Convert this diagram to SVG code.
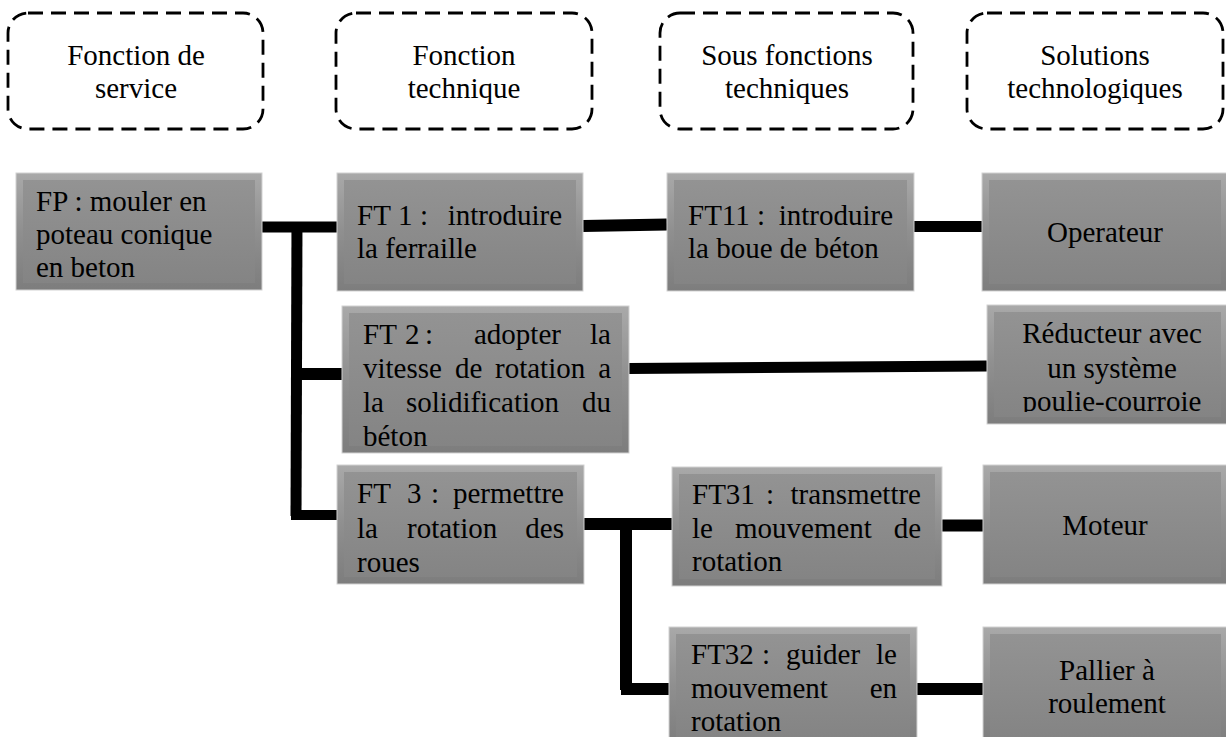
<svg xmlns="http://www.w3.org/2000/svg" width="1226" height="737" viewBox="0 0 1226 737">
<style>
.t{font-family:"Liberation Serif","Times New Roman",serif;font-size:29px;fill:#000}
.c{text-anchor:middle}
.e{text-anchor:end}
.hd{fill:none;stroke:#000;stroke-width:2.8;stroke-dasharray:15 8}
.o{fill:url(#gOuter);stroke:#d2d2d2;stroke-width:1}
.i{fill:url(#gInner)}
</style>
<defs>
<linearGradient id="gOuter" x1="0" y1="0" x2="0" y2="1">
<stop offset="0" stop-color="#a9a9a9"/>
<stop offset="0.5" stop-color="#8f8f8f"/>
<stop offset="1" stop-color="#7d7d7d"/>
</linearGradient>
<linearGradient id="gInner" x1="0" y1="0" x2="0" y2="1">
<stop offset="0" stop-color="#939393"/>
<stop offset="1" stop-color="#848484"/>
</linearGradient>
<clipPath id="clipFT2"><rect x="342" y="306" width="287" height="140"/></clipPath>
<clipPath id="clipRed"><rect x="987" y="305" width="241" height="107"/></clipPath>
</defs>
<rect width="1226" height="737" fill="#fff"/>

<g id="h1"><rect class="hd" x="8" y="13" width="255" height="116" rx="20"/>
<text class="t c" x="136" y="65">Fonction de</text><text class="t c" x="136" y="98">service</text></g>
<g id="h2"><rect class="hd" x="336" y="13" width="256" height="116" rx="20"/>
<text class="t c" x="464" y="65">Fonction</text><text class="t c" x="464" y="98">technique</text></g>
<g id="h3"><rect class="hd" x="660" y="13" width="253" height="116" rx="20"/>
<text class="t c" x="787" y="65">Sous fonctions</text><text class="t c" x="787" y="98">techniques</text></g>
<g id="h4"><rect class="hd" x="967" y="13" width="256" height="116" rx="20"/>
<text class="t c" x="1095" y="65">Solutions</text><text class="t c" x="1095" y="98">technologiques</text></g>

<g id="connectors" stroke="#000" fill="none">
<line x1="262" y1="227" x2="337" y2="227" stroke-width="11"/>
<line x1="297" y1="222" x2="296" y2="516" stroke-width="11"/>
<line x1="301" y1="374" x2="342" y2="374" stroke-width="12"/>
<line x1="291" y1="515" x2="337" y2="515" stroke-width="10"/>
<line x1="583" y1="226" x2="667" y2="224.5" stroke-width="12"/>
<line x1="914" y1="226.5" x2="982" y2="226.5" stroke-width="11"/>
<line x1="629" y1="368.5" x2="987" y2="366" stroke-width="11"/>
<line x1="584" y1="524" x2="672" y2="524" stroke-width="12"/>
<line x1="626" y1="524" x2="626" y2="690" stroke-width="12"/>
<line x1="621" y1="689" x2="669" y2="689" stroke-width="12"/>
<line x1="942" y1="525.5" x2="983" y2="525.5" stroke-width="12"/>
<line x1="917" y1="689" x2="983" y2="689" stroke-width="12"/>
</g>

<g id="fp"><rect class="o" x="16" y="173" width="246" height="117"/><rect class="i" x="23" y="180" width="232" height="103"/>
<text class="t" x="36" y="211">FP : mouler en</text>
<text class="t" x="36" y="244">poteau conique</text>
<text class="t" x="36" y="277">en beton</text></g>

<g id="ft1"><rect class="o" x="337" y="173" width="246" height="118"/><rect class="i" x="344" y="180" width="232" height="104"/>
<text class="t" x="357" y="225">FT</text><text class="t" x="398" y="225">1</text><text class="t" x="420" y="225">:</text><text class="t e" x="562" y="225">introduire</text>
<text class="t" x="357" y="258">la ferraille</text></g>

<g id="ft11"><rect class="o" x="667" y="173" width="247" height="118"/><rect class="i" x="674" y="180" width="233" height="104"/>
<text class="t" x="688" y="225">FT11 :</text><text class="t e" x="893" y="225">introduire</text>
<text class="t" x="688" y="258">la boue de béton</text></g>

<g id="operateur"><rect class="o" x="982" y="173" width="246" height="118"/><rect class="i" x="989" y="180" width="232" height="104"/>
<text class="t c" x="1105" y="242">Operateur</text></g>

<g id="ft2"><rect class="o" x="342" y="306" width="287" height="147"/><rect class="i" x="349" y="313" width="273" height="133"/>
<g clip-path="url(#clipFT2)">
<text class="t" x="363" y="344">FT</text><text class="t" x="405" y="344">2</text><text class="t" x="425" y="344">:</text><text class="t" x="474" y="344">adopter</text><text class="t e" x="611" y="344">la</text>
<text class="t" x="363" y="378">vitesse</text><text class="t" x="455" y="378">de</text><text class="t" x="495" y="378">rotation</text><text class="t e" x="611" y="378">a</text>
<text class="t" x="363" y="412">la</text><text class="t" x="406" y="412">solidification</text><text class="t e" x="611" y="412">du</text>
<text class="t" x="363" y="446">béton</text>
</g></g>

<g id="reducteur"><rect class="o" x="987" y="305" width="241" height="119"/><rect class="i" x="994" y="312" width="227" height="105"/>
<g clip-path="url(#clipRed)">
<text class="t c" x="1112" y="343">Réducteur avec</text>
<text class="t c" x="1112" y="378">un système</text>
<text class="t c" x="1112" y="411">poulie-courroie</text>
</g></g>

<g id="ft3"><rect class="o" x="337" y="465" width="247" height="119"/><rect class="i" x="344" y="472" width="233" height="105"/>
<text class="t" x="357" y="503">FT</text><text class="t" x="407" y="503">3</text><text class="t" x="431" y="503">:</text><text class="t e" x="564" y="503">permettre</text>
<text class="t" x="357" y="538">la</text><text class="t" x="407" y="538">rotation</text><text class="t e" x="564" y="538">des</text>
<text class="t" x="357" y="572">roues</text></g>

<g id="ft31"><rect class="o" x="672" y="467" width="270" height="119"/><rect class="i" x="679" y="474" width="256" height="105"/>
<text class="t" x="692" y="504">FT31</text><text class="t" x="766" y="504">:</text><text class="t e" x="921" y="504">transmettre</text>
<text class="t" x="692" y="538">le</text><text class="t" x="735" y="538">mouvement</text><text class="t e" x="921" y="538">de</text>
<text class="t" x="692" y="571">rotation</text></g>

<g id="moteur"><rect class="o" x="983" y="465" width="245" height="119"/><rect class="i" x="990" y="472" width="231" height="105"/>
<text class="t c" x="1105" y="535">Moteur</text></g>

<g id="ft32"><rect class="o" x="669" y="627" width="248" height="118"/><rect class="i" x="676" y="634" width="234" height="104"/>
<text class="t" x="691" y="664">FT32</text><text class="t" x="762" y="664">:</text><text class="t" x="786" y="664">guider</text><text class="t e" x="897" y="664">le</text>
<text class="t" x="691" y="698">mouvement</text><text class="t e" x="897" y="698">en</text>
<text class="t" x="691" y="731">rotation</text></g>

<g id="pallier"><rect class="o" x="983" y="627" width="245" height="118"/><rect class="i" x="990" y="634" width="231" height="104"/>
<text class="t c" x="1107" y="680">Pallier à</text>
<text class="t c" x="1107" y="713">roulement</text></g>
</svg>
